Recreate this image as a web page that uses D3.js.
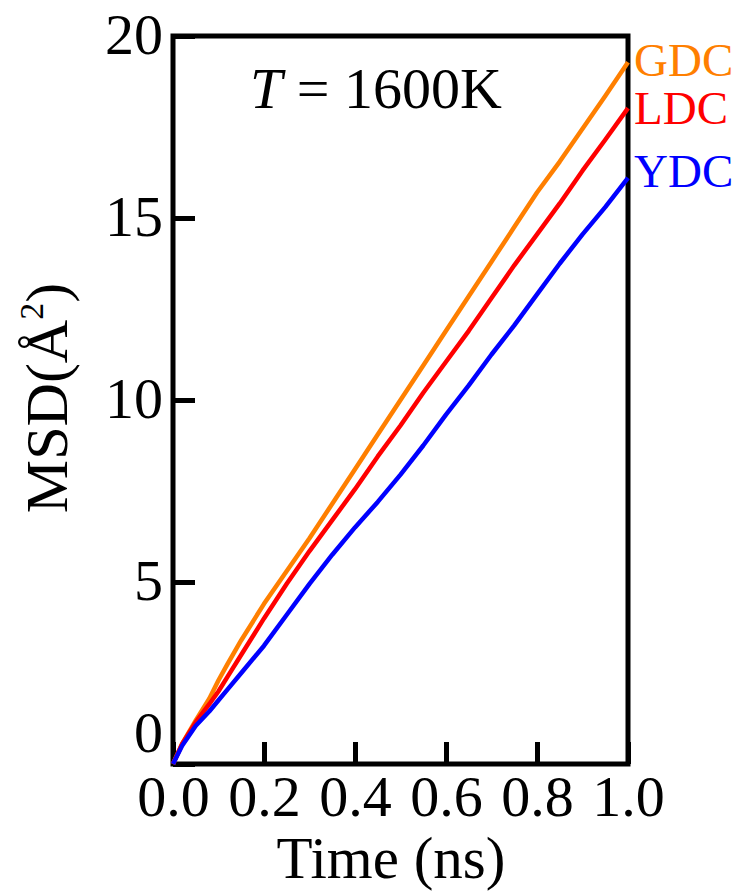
<!DOCTYPE html>
<html>
<head>
<meta charset="utf-8">
<script src="https://cdn.jsdelivr.net/npm/d3@7"></script>
<style>
  html, body { margin: 0; padding: 0; background: #fff; }
  svg { display: block; }
  text { font-family: "Liberation Serif", "Times New Roman", serif; fill: #000; }
</style>
</head>
<body>
<svg id="chart" width="745" height="895"></svg>
<script>
// ---- data ----
const time = [0, 0.02, 0.05, 0.08, 0.10, 0.12, 0.15, 0.20, 0.25, 0.30, 0.35, 0.40, 0.45, 0.50,
              0.55, 0.60, 0.65, 0.70, 0.75, 0.80, 0.85, 0.90, 0.95, 1.00];
const gdc = [0, 0.55, 1.2, 1.8, 2.3, 2.75, 3.4, 4.4, 5.3, 6.2, 7.15, 8.1, 9.05, 10.0,
             10.95, 11.9, 12.85, 13.8, 14.75, 15.7, 16.55, 17.45, 18.35, 19.28];
const ldc = [0, 0.55, 1.15, 1.65, 2.0, 2.4, 3.0, 4.0, 4.95, 5.85, 6.7, 7.55, 8.45, 9.3,
             10.2, 11.05, 11.9, 12.8, 13.7, 14.55, 15.4, 16.3, 17.15, 18.02];
const ydc = [0, 0.5, 1.05, 1.45, 1.75, 2.05, 2.5, 3.25, 4.1, 4.95, 5.75, 6.5, 7.2, 7.95,
             8.75, 9.6, 10.4, 11.25, 12.05, 12.9, 13.75, 14.55, 15.3, 16.1];
const seriesNames = ["GDC", "LDC", "YDC"];
const seriesColors = ["#FF7F00", "#FF0000", "#0000FF"];
const xTicks = [0, 0.2, 0.4, 0.6, 0.8, 1.0];
const yTicks = [0, 5, 10, 15, 20];
const xTitle = "Time (ns)";
const annotation = "1600K";

// ---- layout ----
const mLeft = 173, mRight = 628, mTop = 36, mBottom = 764;
const svg = d3.select("#chart");
const x = d3.scaleLinear().domain([0, 1]).range([mLeft, mRight]);
const y = d3.scaleLinear().domain([0, 20]).range([mBottom, mTop]);

const seriesData = [gdc, ldc, ydc];

// axes with inward ticks
const xAxis = d3.axisBottom(x).tickValues(xTicks).tickFormat(d3.format(".1f"))
  .tickSizeInner(-22).tickSizeOuter(0).tickPadding(11);
const gx = svg.append("g").attr("transform", `translate(0,${mBottom})`).call(xAxis);
gx.select(".domain").remove();
gx.selectAll(".tick line").attr("stroke", "#000").attr("stroke-width", 5);
gx.selectAll(".tick text").style("font-size", "58px").style("font-family", "'Liberation Serif', serif").attr("fill", "#000");

const yAxis = d3.axisLeft(y).tickValues(yTicks).tickFormat(d3.format("d"))
  .tickSizeInner(-22).tickSizeOuter(0).tickPadding(10);
const gy = svg.append("g").attr("transform", `translate(${mLeft},0)`).call(yAxis);
gy.select(".domain").remove();
gy.selectAll(".tick line").attr("stroke", "#000").attr("stroke-width", 5);
gy.selectAll(".tick text").style("font-size", "58px").style("font-family", "'Liberation Serif', serif").attr("fill", "#000")
  .attr("dy", d => d === 0 ? "-0.22em" : "0.3em");

// frame
svg.append("rect")
  .attr("x", mLeft).attr("y", mTop)
  .attr("width", mRight - mLeft).attr("height", mBottom - mTop)
  .attr("fill", "none").attr("stroke", "#000").attr("stroke-width", 5);

// lines
const line = d3.line().x((d, i) => x(time[i])).y(d => y(d));
seriesData.forEach((s, k) => {
  svg.append("path").datum(s)
    .attr("d", line)
    .attr("fill", "none")
    .attr("stroke", seriesColors[k])
    .attr("stroke-width", 4.5)
    .attr("stroke-linejoin", "round");
});

// series labels at the right end
const labelBaselines = [76, 124, 187];
seriesNames.forEach((n, k) => {
  svg.append("text")
    .attr("x", 634).attr("y", labelBaselines[k])
    .style("font-size", "47px")
    .style("fill", seriesColors[k])
    .text(n);
});

// annotation T = 1600K
const ann = svg.append("text").attr("x", 250).attr("y", 108).style("font-size", "58px");
ann.append("tspan").style("font-style", "italic").text("T");
ann.append("tspan").text(" = " + annotation);

// x title
svg.append("text")
  .attr("x", 391).attr("y", 878)
  .attr("text-anchor", "middle")
  .style("font-size", "59px")
  .text(xTitle);

// y title, rotated
const yt = svg.append("text")
  .attr("transform", "translate(67,398) rotate(-90)")
  .attr("text-anchor", "middle")
  .style("font-size", "60px");
yt.append("tspan").text("MSD(Å");
yt.append("tspan").style("font-size", "34px").attr("dy", "-24").text("2");
yt.append("tspan").attr("dy", "24").text(")");
</script>
</body>
</html>
